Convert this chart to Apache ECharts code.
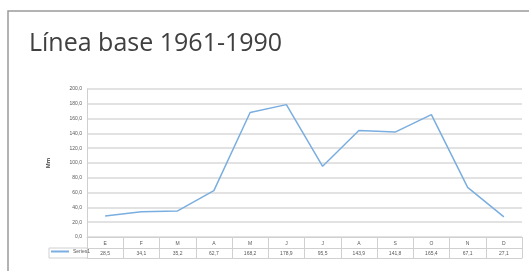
<!DOCTYPE html>
<html>
<head>
<meta charset="utf-8">
<script src="https://cdn.jsdelivr.net/npm/echarts@6/dist/echarts.min.js"></script>
<style>
  html, body { margin: 0; padding: 0; background: #fff; }
  #chart { width: 529px; height: 271px; }
</style>
</head>
<body>
<div id="chart"></div>
<script>
const months = ['E', 'F', 'M', 'A', 'M', 'J', 'J', 'A', 'S', 'O', 'N', 'D']
const series1 = [28.5, 34.1, 35.2, 62.7, 168.2, 178.9, 95.5, 143.9, 141.8, 165.4, 67.1, 27.1]
const seriesName = 'Series1'
const yMin = 0
const yMax = 200
const yStep = 20

const fmt = v => v.toFixed(1).replace('.', ',')
const tableLine = '#d0d0d0'
const textGray = '#595959'

const chart = echarts.init(document.getElementById('chart'))
chart.setOption({
  animation: false,
  title: {
    text: 'Línea base 1961-1990',
    left: 24,
    top: 26,
    textStyle: { fontFamily: 'Open Sans', fontSize: 25, fontWeight: 'normal', color: '#404040' }
  },
  grid: { left: 87, right: 7, top: 89, bottom: 34 },
  legend: {
    data: [seriesName],
    left: 51,
    top: 249,
    icon: 'rect',
    itemWidth: 18,
    itemHeight: 2,
    itemGap: 2,
    padding: 0,
    textStyle: { fontSize: 5, color: textGray, padding: [0, 0, 0, -1] }
  },
  xAxis: [{
    type: 'category',
    data: months,
    position: 'bottom',
    axisLine: { lineStyle: { color: tableLine } },
    axisTick: { show: true, length: 21, interval: 0, lineStyle: { color: tableLine } },
    axisLabel: { margin: 4, fontSize: 5, color: textGray, interval: 0 }
  }, {
    type: 'category',
    data: series1.map(fmt),
    position: 'bottom',
    offset: 11,
    axisLine: { lineStyle: { color: tableLine } },
    axisTick: { show: false },
    axisLabel: { margin: 3, fontSize: 5, color: textGray, interval: 0 }
  }, {
    type: 'category',
    data: months,
    position: 'bottom',
    offset: 21,
    axisLine: { lineStyle: { color: tableLine } },
    axisTick: { show: false },
    axisLabel: { show: false }
  }],
  yAxis: {
    type: 'value',
    min: yMin,
    max: yMax,
    interval: yStep,
    name: 'Mm',
    nameLocation: 'middle',
    nameGap: 36,
    nameRotate: 90,
    nameTextStyle: { fontSize: 6, color: '#404040', fontWeight: 'bold' },
    axisLine: { show: true, lineStyle: { color: tableLine } },
    axisTick: { show: false },
    axisLabel: { fontSize: 5, color: textGray, margin: 5, formatter: v => fmt(v) },
    splitLine: { lineStyle: { color: '#d9d9d9', width: 1.5 } }
  },
  series: [{
    name: seriesName,
    type: 'line',
    xAxisIndex: 0,
    data: series1,
    showSymbol: false,
    lineStyle: { color: '#7aaee0', width: 1.5 },
    itemStyle: { color: '#7aaee0' }
  }],
  graphic: [
    { type: 'rect', shape: { x: 8, y: 11, width: 540, height: 280 }, style: { fill: 'none', stroke: '#9a9a9a', lineWidth: 1.5 } },
    { type: 'line', shape: { x1: 49, y1: 248, x2: 87, y2: 248 }, style: { stroke: tableLine, lineWidth: 1 } },
    { type: 'line', shape: { x1: 49, y1: 258, x2: 87, y2: 258 }, style: { stroke: tableLine, lineWidth: 1 } },
    { type: 'line', shape: { x1: 49, y1: 248, x2: 49, y2: 258 }, style: { stroke: tableLine, lineWidth: 1 } }
  ]
})
</script>
</body>
</html>
